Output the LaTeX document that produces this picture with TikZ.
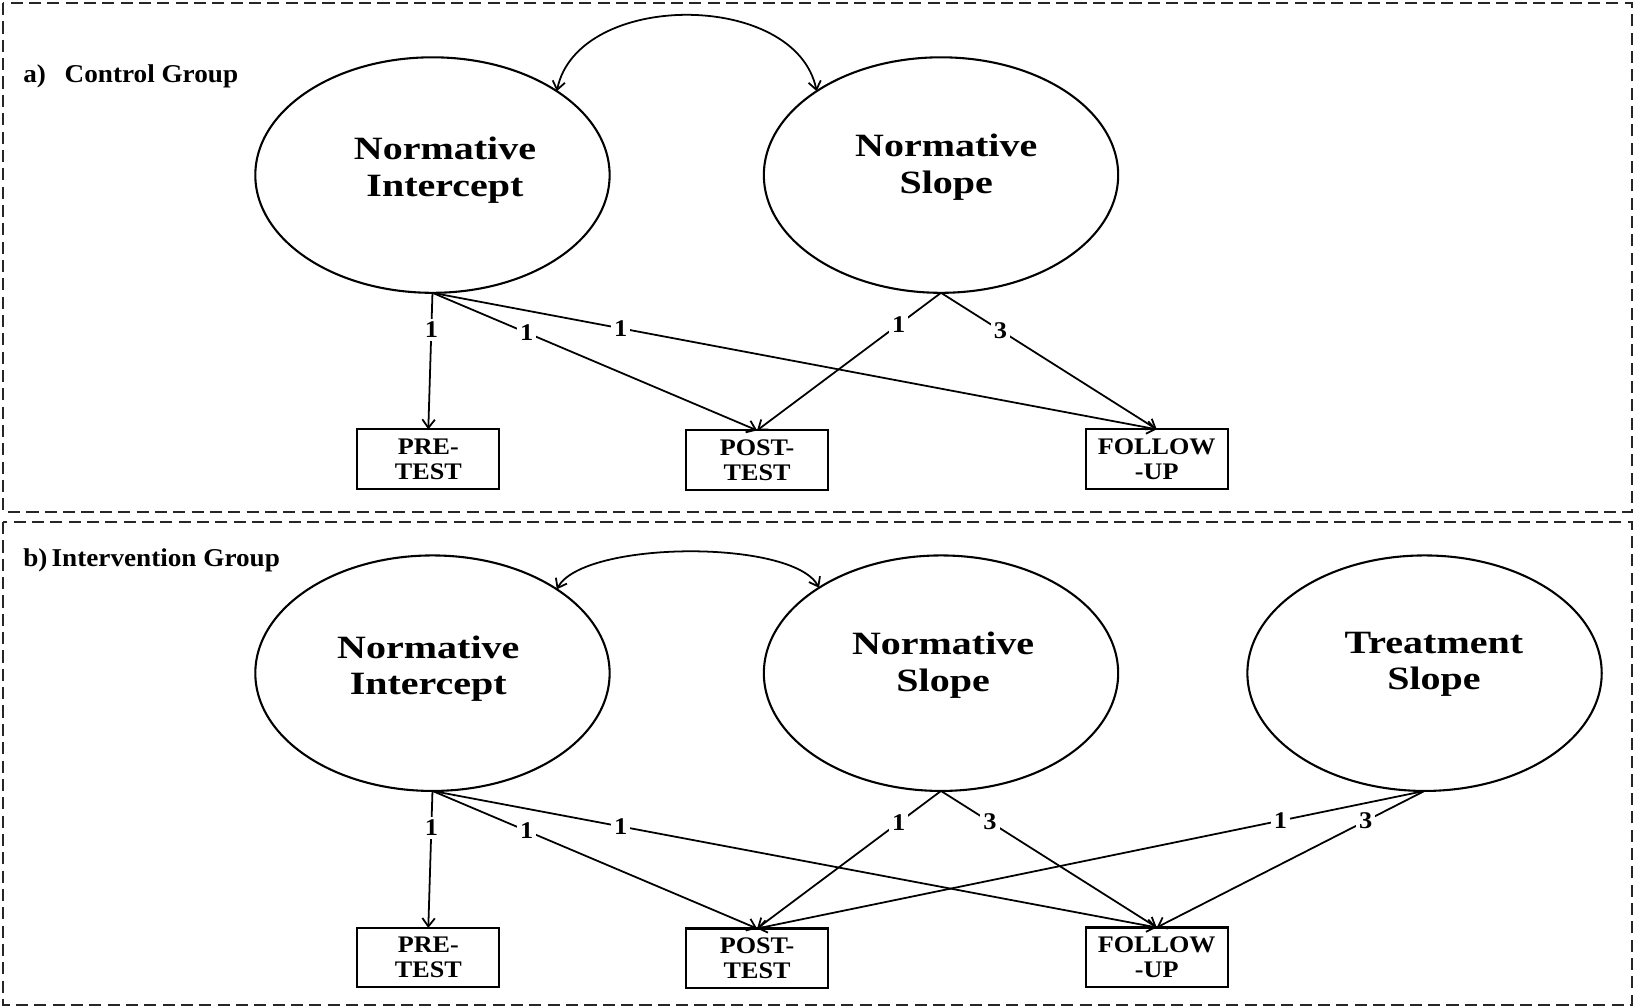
\documentclass[tikz,border=0pt]{standalone}
\usepackage{fontspec}
\setmainfont{Liberation Serif}
\newfontfamily\latfont{Liberation Serif}[FakeStretch=1.23]
\newfontfamily\boxfont{Liberation Serif}[FakeStretch=1.1]
\newfontfamily\labfont{Liberation Serif}[FakeStretch=1.06]
\usetikzlibrary{arrows.meta,shapes.geometric}
\begin{document}
\begin{tikzpicture}[x=0.5pt,y=-0.5pt,
  panel/.style={draw=black!85, line width=0.9pt, dash pattern=on 5.8pt off 3pt},
  latent/.style={draw, ellipse, line width=1pt, minimum width=170pt, minimum height=113pt, inner sep=0pt, outer sep=0pt},
  lattext/.style={align=center, inner sep=0pt, font=\latfont\fontsize{15.6}{17.6}\selectfont\bfseries},
  obs/.style={draw, rectangle, line width=1pt, minimum width=68pt, minimum height=28.5pt, inner sep=0pt, outer sep=0pt, align=center, font=\boxfont\fontsize{11.4}{12}\selectfont\bfseries},
  tip/.tip={Straight Barb[length=4pt,width=6pt]},
  pathA/.style={line width=0.85pt, -tip},
  covar/.style={line width=0.85pt, tip-tip},
  wt/.style={fill=white, inner sep=1.5pt, font=\boxfont\fontsize{11.5}{12}\selectfont\bfseries},
  title/.style={anchor=base west, inner sep=0pt, font=\labfont\fontsize{12.3}{14}\selectfont\bfseries}
]
\useasboundingbox (0,0) rectangle (1568,967);
\fill[white] (0,0) rectangle (1568,967);

% panels
\draw[panel] (3,3) rectangle (1566,491);
\draw[panel] (3,501) rectangle (1566,964);

\node[title] (labA) at (22,79) {a)\hspace{9pt}Control Group};
\node[title] (labB) at (22,544) {b)\hspace{2pt}Intervention Group};

% ---------- panel a ----------
\node[latent] (niA) at (415,168) {};
\node[lattext] (niAt) at (427,163.6) {Normative\\Intercept};
\node[latent] (nsA) at (903,168) {};
\node[lattext] (nsAt) at (908,160.6) {Normative\\Slope};

\node[obs] (preA) at (411,440.5) {PRE-\\TEST};
\node[obs] (postA) at (726.5,441.5) {POST-\\TEST};
\node[obs] (folA) at (1110,440.5) {FOLLOW\\-UP};

\draw[covar] (niA.34) .. controls +(20,-97) and +(-20,-97) .. (nsA.146);

\draw[pathA] (niA.south) -- (preA.north) node[wt,pos=0.27] {1};
\draw[pathA] (niA.south) -- (postA.north) node[wt,pos=0.29] {1};
\draw[pathA] (niA.south) -- (folA.north) node[wt,pos=0.26] {1};
\draw[pathA] (nsA.south) -- (postA.north) node[wt,pos=0.23] {1};
\draw[pathA] (nsA.south) -- (folA.north) node[wt,pos=0.275] {3};

% ---------- panel b ----------
\node[latent] (niB) at (415,646) {};
\node[lattext] (niBt) at (411,641.6) {Normative\\Intercept};
\node[latent] (nsB) at (903,646) {};
\node[lattext] (nsBt) at (905,638.6) {Normative\\Slope};
\node[latent] (tsB) at (1367,646) {};
\node[lattext] (tsBt) at (1376,637.6) {Treatment\\Slope};

\node[obs] (preB) at (411,919) {PRE-\\TEST};
\node[obs] (postB) at (726.5,919.5) {POST-\\TEST};
\node[obs] (folB) at (1110,918.5) {FOLLOW\\-UP};

\draw[covar] (niB.34) .. controls +(25,-47) and +(-25,-47) .. (nsB.145.5);

\draw[pathA] (niB.south) -- (preB.north) node[wt,pos=0.27] {1};
\draw[pathA] (niB.south) -- (postB.north) node[wt,pos=0.29] {1};
\draw[pathA] (niB.south) -- (folB.north) node[wt,pos=0.26] {1};
\draw[pathA] (nsB.south) -- (postB.north) node[wt,pos=0.23] {1};
\draw[pathA] (nsB.south) -- (folB.north) node[wt,pos=0.227] {3};
\draw[pathA] (tsB.south) -- (postB.north) node[wt,pos=0.216] {1};
\draw[pathA] (tsB.south) -- (folB.north) node[wt,pos=0.22] {3};
\end{tikzpicture}
\end{document}
